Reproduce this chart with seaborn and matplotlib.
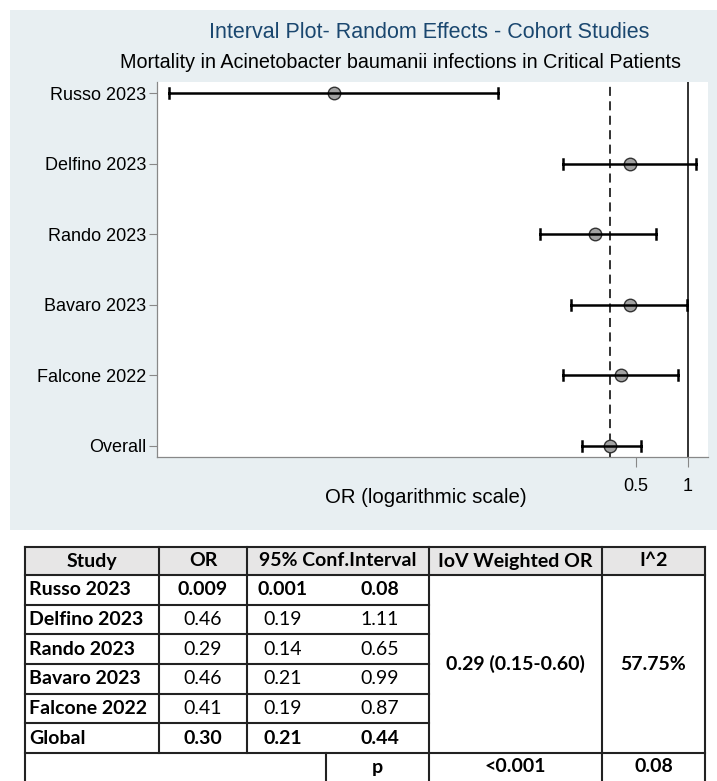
import numpy as np
import pandas as pd
import matplotlib
matplotlib.use("Agg")
import matplotlib.pyplot as plt
import seaborn as sns
from matplotlib.patches import Rectangle
from matplotlib.ticker import FixedLocator, FixedFormatter, NullLocator

# ---- forest plot data (odds ratios with 95% CI) ----
studies = ["Russo 2023", "Delfino 2023", "Rando 2023", "Bavaro 2023", "Falcone 2022", "Overall"]
or_est = [0.009, 0.46, 0.29, 0.46, 0.41, 0.355]
or_lo = [0.001, 0.19, 0.14, 0.21, 0.19, 0.245]
or_hi = [0.08, 1.11, 0.65, 0.99, 0.87, 0.535]
x_ticks = [0.5, 1]
x_tick_labels = ["0.5", "1"]

# ---- summary table ----
tbl_header = ["Study", "OR", "95% Conf.Interval", "IoV Weighted OR", "I^2"]
tbl_study = ["Russo 2023", "Delfino 2023", "Rando 2023", "Bavaro 2023", "Falcone 2022", "Global"]
tbl_or = ["0.009", "0.46", "0.29", "0.46", "0.41", "0.30"]
tbl_lo = ["0.001", "0.19", "0.14", "0.21", "0.19", "0.21"]
tbl_hi = ["0.08", "1.11", "0.65", "0.99", "0.87", "0.44"]
tbl_bold_rows = [True, False, False, False, False, True]
pooled_or = "0.29 (0.15-0.60)"
pooled_i2 = "57.75%"
p_label = "p"
p_pooled = "<0.001"
p_i2 = "0.08"

W, H = 717, 781
fig = plt.figure(figsize=(W / 100, H / 100), dpi=100)
fig.patch.set_facecolor("white")

# pixel-coordinate canvas for the background panel and the table
canvas = fig.add_axes([0, 0, 1, 1], zorder=0)
canvas.set_xlim(0, W)
canvas.set_ylim(H, 0)
canvas.axis("off")
canvas.add_patch(Rectangle((10, 10), 707, 520, facecolor="#e8eff2", edgecolor="none"))


def fig_box(left, top, right, bottom):
    return [left / W, 1 - bottom / H, (right - left) / W, (bottom - top) / H]


PLOT_FONT = "Liberation Sans"
ax = fig.add_axes(fig_box(157, 82, 708, 457), zorder=1)
ax.set_facecolor("white")

long = pd.DataFrame({
    "study": np.repeat(studies, 3),
    "OR": np.ravel(np.column_stack([or_lo, or_est, or_hi])),
})

sns.pointplot(
    data=long, x="OR", y="study", order=studies, orient="h",
    estimator="median", errorbar=lambda v: (v.min(), v.max()),
    log_scale=(True, False),
    color="black", linestyle="none", marker="o",
    markersize=9, markerfacecolor="#a3a3a3", markeredgecolor="#333333",
    markeredgewidth=1.0, capsize=0.14, err_kws={"linewidth": 1.8},
    zorder=4, ax=ax,
)

ax.axvline(1, color="#222222", lw=1.3, zorder=2)
ax.axvline(or_est[-1], color="#222222", lw=1.3, ls=(0, (5, 3)), zorder=2)

ax.set_xlim(0.00085, 1.305)
ax.set_ylim(len(studies) - 1 + 0.16, -0.16)

ax.xaxis.set_major_locator(FixedLocator(x_ticks))
ax.xaxis.set_major_formatter(FixedFormatter(x_tick_labels))
ax.xaxis.set_minor_locator(NullLocator())
ax.tick_params(axis="x", length=7, width=0.8, color="#888888", labelsize=13, pad=8)
ax.tick_params(axis="y", length=6, width=0.8, color="#888888", labelsize=13, pad=2)
for lab in ax.get_xticklabels() + ax.get_yticklabels():
    lab.set_fontfamily(PLOT_FONT)

for side in ["top", "right"]:
    ax.spines[side].set_visible(False)
for side in ["left", "bottom"]:
    ax.spines[side].set_color("#888888")
    ax.spines[side].set_linewidth(0.9)

ax.set_ylabel("")
ax.set_xlabel("OR (logarithmic scale)", fontsize=14.7, family=PLOT_FONT)
ax.xaxis.set_label_coords((426 - 157) / 551, -(498 - 457) / 375)
ax.xaxis.label.set_va("center")

canvas.text(429, 33, "Interval Plot- Random Effects - Cohort Studies", ha="center", va="center",
            fontsize=15.5, color="#1a476f", family=PLOT_FONT)
canvas.text(400, 62, "Mortality in Acinetobacter baumanii infections in Critical Patients",
            ha="center", va="center", fontsize=14.2, color="black", family=PLOT_FONT)

# ---- table ----
TF = "Lato"
TS = 14
line_kw = dict(color="#222222", lw=1.5, solid_capstyle="projecting")
x_left, x_or, x_ci, x_ci_mid, x_iov, x_i2, x_right = 25, 159, 247, 326, 429, 602, 705
y_top, y_head = 547, 575
row_h = (753 - 575) / 6
y_p = y_head + 6 * row_h
y_bot = 781

canvas.add_patch(Rectangle((x_left, y_top), x_right - x_left, y_head - y_top,
                           facecolor="#e7e6e6", edgecolor="none"))

for y in [y_top, y_head, y_p]:
    canvas.plot([x_left, x_right], [y, y], **line_kw)
for k in range(1, 6):
    y = y_head + k * row_h
    canvas.plot([x_left, x_iov], [y, y], **line_kw)
for x in [x_left, x_iov, x_i2, x_right]:
    canvas.plot([x, x], [y_top, y_bot], **line_kw)
for x in [x_or, x_ci]:
    canvas.plot([x, x], [y_top, y_p], **line_kw)
canvas.plot([x_ci_mid, x_ci_mid], [y_p, y_bot], **line_kw)

yh = (y_top + y_head) / 2
head_x = [(x_left + x_or) / 2, (x_or + x_ci) / 2, (x_ci + x_iov) / 2, (x_iov + x_i2) / 2, (x_i2 + x_right) / 2]
for hx, txt in zip(head_x, tbl_header):
    canvas.text(hx, yh, txt, ha="center", va="center", fontsize=TS, fontweight="bold", family=TF)

for i in range(6):
    yc = y_head + (i + 0.5) * row_h
    w = "bold" if tbl_bold_rows[i] else "normal"
    canvas.text(29, yc, tbl_study[i], ha="left", va="center", fontsize=TS, fontweight="bold", family=TF)
    canvas.text(203, yc, tbl_or[i], ha="center", va="center", fontsize=TS, fontweight=w, family=TF)
    canvas.text(283, yc, tbl_lo[i], ha="center", va="center", fontsize=TS, fontweight=w, family=TF)
    canvas.text(380, yc, tbl_hi[i], ha="center", va="center", fontsize=TS, fontweight=w, family=TF)

ymid = (y_head + y_p) / 2
canvas.text((x_iov + x_i2) / 2, ymid, pooled_or, ha="center", va="center", fontsize=TS, fontweight="bold", family=TF)
canvas.text((x_i2 + x_right) / 2, ymid, pooled_i2, ha="center", va="center", fontsize=TS, fontweight="bold", family=TF)

yp = y_p + 14
canvas.text((x_ci_mid + x_iov) / 2, yp, p_label, ha="center", va="center", fontsize=TS, fontweight="bold", family=TF)
canvas.text((x_iov + x_i2) / 2, yp, p_pooled, ha="center", va="center", fontsize=TS, fontweight="bold", family=TF)
canvas.text((x_i2 + x_right) / 2, yp, p_i2, ha="center", va="center", fontsize=TS, fontweight="bold", family=TF)

fig.savefig("out.png", dpi=100)
